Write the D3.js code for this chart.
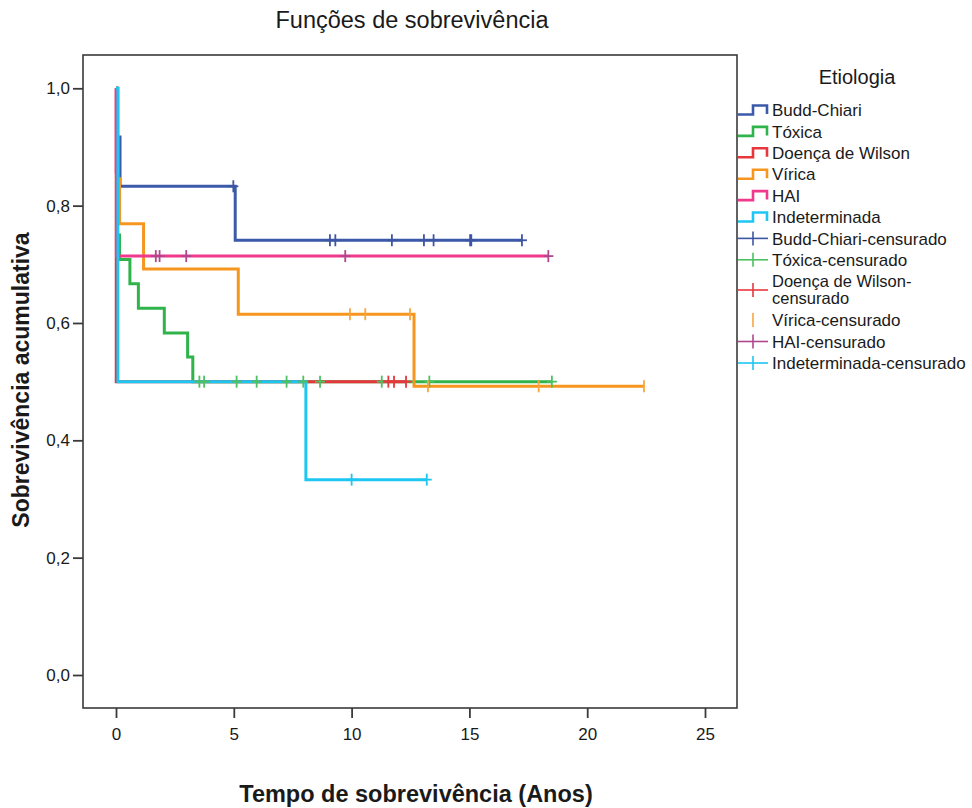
<!DOCTYPE html>
<html>
<head>
<meta charset="utf-8">
<script src="https://cdn.jsdelivr.net/npm/d3@7"></script>
<style>
  html, body { margin: 0; padding: 0; background: #fff; }
  svg text { font-family: "Liberation Sans", Arial, sans-serif; fill: #1a1a1a; }
</style>
</head>
<body>
<svg id="chart" width="972" height="808"></svg>
<script>
// ---------- data ----------
const chartTitle = "Funções de sobrevivência";
const xTitle = "Tempo de sobrevivência (Anos)";
const yTitle = "Sobrevivência acumulativa";
const legendTitle = "Etiologia";
const xTicks = [0, 5, 10, 15, 20, 25];
const yTicks = [0, 0.2, 0.4, 0.6, 0.8, 1.0];

const groups = ["Budd-Chiari", "Tóxica", "Doença de Wilson", "Vírica", "HAI", "Indeterminada"];
const lineColors = ["#3d59a9", "#2fb34a", "#e8363c", "#f7961f", "#f0398d", "#1ec6f2"];
const censorColors = ["#3d55a3", "#4cc15f", "#e8363c", "#f8a63f", "#b0478d", "#1ec6f2"];
const censorLabels = ["Budd-Chiari-censurado", "Tóxica-censurado", "Doença de Wilson-censurado", "Vírica-censurado", "HAI-censurado", "Indeterminada-censurado"];

// step change times and survival values
const buddTimes = [0, 0.05, 0.17, 5.06];
const buddSurv  = [1, 0.917, 0.833, 0.741];
const buddEnd   = 17.23;
const buddCens  = [4.98, 9.08, 9.31, 11.71, 13.07, 13.48, 15.03, 15.08, 17.23];

const toxTimes = [0, 0.05, 0.15, 0.59, 0.95, 2.05, 3.04, 3.26];
const toxSurv  = [1, 0.75, 0.708, 0.667, 0.625, 0.583, 0.542, 0.5];
const toxEnd   = 18.5;
const toxCens  = [3.54, 3.74, 5.12, 5.97, 7.24, 7.95, 8.66, 11.28, 13.30, 18.50];

const wilTimes = [0, 0.01];
const wilSurv  = [1, 0.5];
const wilEnd   = 12.31;
const wilCens  = [11.56, 11.80, 12.31];

const virTimes = [0, 0.08, 0.15, 1.17, 5.19, 12.65];
const virSurv  = [1, 0.846, 0.769, 0.692, 0.615, 0.492];
const virEnd   = 22.41;
const virCens  = [9.93, 10.58, 12.48, 13.24, 17.94, 22.41];

const haiTimes = [0, 0.01, 0.02];
const haiSurv  = [1, 0.857, 0.714];
const haiEnd   = 18.35;
const haiCens  = [1.69, 1.85, 2.98, 9.73, 18.35];

const indTimes = [0, 0.08, 8.06];
const indSurv  = [1, 0.5, 0.333];
const indEnd   = 13.19;
const indCens  = [10.0, 13.19];

const series = [
  {times: buddTimes, surv: buddSurv, end: buddEnd, cens: buddCens},
  {times: toxTimes,  surv: toxSurv,  end: toxEnd,  cens: toxCens},
  {times: wilTimes,  surv: wilSurv,  end: wilEnd,  cens: wilCens},
  {times: virTimes,  surv: virSurv,  end: virEnd,  cens: virCens},
  {times: haiTimes,  surv: haiSurv,  end: haiEnd,  cens: haiCens},
  {times: indTimes,  surv: indSurv,  end: indEnd,  cens: indCens}
];

// ---------- drawing ----------
const svg = d3.select("#chart");
const frame = {left: 83, top: 55, right: 737, bottom: 708};
const x = d3.scaleLinear().domain([0, 25]).range([116, 705]);
const y = d3.scaleLinear().domain([0, 1]).range([675, 88.3]);

// title
svg.append("text").attr("x", 412).attr("y", 28).attr("text-anchor", "middle")
  .style("font-size", "23.5px").text(chartTitle);

// frame
svg.append("rect").attr("x", frame.left).attr("y", frame.top)
  .attr("width", frame.right - frame.left).attr("height", frame.bottom - frame.top)
  .attr("fill", "none").attr("stroke", "#3a3a3a").attr("stroke-width", 1.6);

// axes
const fmt = d => d.toFixed(1).replace(".", ",");
const yAxis = svg.append("g").attr("transform", `translate(${frame.left},0)`)
  .call(d3.axisLeft(y).tickValues(yTicks).tickFormat(fmt).tickSize(10).tickPadding(3));
const xAxis = svg.append("g").attr("transform", `translate(0,${frame.bottom})`)
  .call(d3.axisBottom(x).tickValues(xTicks).tickFormat(d3.format("d")).tickSize(10).tickPadding(10));
[yAxis, xAxis].forEach(g => {
  g.select(".domain").remove();
  g.selectAll(".tick line").attr("stroke", "#3a3a3a").attr("stroke-width", 1.8);
  g.selectAll(".tick text").style("font-size", "17px").attr("fill", "#1a1a1a")
    .style("font-family", "'Liberation Sans', Arial, sans-serif");
});

// axis titles
svg.append("text").attr("x", 416).attr("y", 802).attr("text-anchor", "middle")
  .style("font-size", "23.5px").style("font-weight", "bold").text(xTitle);
svg.append("text").attr("transform", "translate(29,380) rotate(-90)").attr("text-anchor", "middle")
  .style("font-size", "23px").style("font-weight", "bold").text(yTitle);

// curves
const line = d3.line().x(d => x(d[0])).y(d => y(d[1])).curve(d3.curveStepAfter);
const survAt = (s, t) => {
  let v = s.surv[0];
  s.times.forEach((tt, i) => { if (tt <= t) v = s.surv[i]; });
  return v;
};
series.forEach((s, i) => {
  const pts = s.times.map((t, k) => [t, s.surv[k]]);
  pts.push([s.end, s.surv[s.surv.length - 1]]);
  svg.append("path").attr("d", line(pts)).attr("fill", "none")
    .attr("stroke", lineColors[i]).attr("stroke-width", 3)
    .attr("stroke-linejoin", "miter");
});
// censor marks
series.forEach((s, i) => {
  const g = svg.append("g").attr("stroke", censorColors[i]).attr("stroke-width", 1.8);
  s.cens.forEach(t => {
    const cx = x(t), cy = y(survAt(s, t));
    g.append("line").attr("x1", cx).attr("x2", cx).attr("y1", cy - 6).attr("y2", cy + 6);
    if (i !== 3) g.append("line").attr("x1", cx - 5).attr("x2", cx + 5).attr("y1", cy).attr("y2", cy);
  });
});

// legend
svg.append("text").attr("x", 857).attr("y", 84).attr("text-anchor", "middle")
  .style("font-size", "20px").text(legendTitle);
const lx = 738, tx = 772;
const rowY = [110, 131.4, 152.8, 174.2, 195.6, 217, 238.4, 259.8, 290, 320, 341.5, 363];
groups.forEach((name, i) => {
  const cy = rowY[i];
  svg.append("path")
    .attr("d", `M${lx},${cy + 4.5}H${lx + 15}V${cy - 4.5}H${lx + 29}V${cy + 4}`)
    .attr("fill", "none").attr("stroke", lineColors[i]).attr("stroke-width", 2.6);
  svg.append("text").attr("x", tx).attr("y", cy).attr("dy", "0.36em")
    .style("font-size", "17px").text(name);
});
censorLabels.forEach((name, i) => {
  const cy = rowY[i + 6];
  const g = svg.append("g").attr("stroke", censorColors[i]).attr("stroke-width", 1.6);
  if (i !== 3) g.append("line").attr("x1", lx).attr("x2", lx + 30).attr("y1", cy).attr("y2", cy);
  g.append("line").attr("x1", lx + 15).attr("x2", lx + 15).attr("y1", cy - 7).attr("y2", cy + 7);
  if (i === 2) {
    svg.append("text").attr("x", tx).attr("y", cy - 8.5).attr("dy", "0.36em")
      .style("font-size", "16.5px").text("Doença de Wilson-");
    svg.append("text").attr("x", tx).attr("y", cy + 8.5).attr("dy", "0.36em")
      .style("font-size", "16.5px").text("censurado");
  } else {
    svg.append("text").attr("x", tx).attr("y", cy).attr("dy", "0.36em")
      .style("font-size", "17px").text(name);
  }
});
</script>
</body>
</html>
